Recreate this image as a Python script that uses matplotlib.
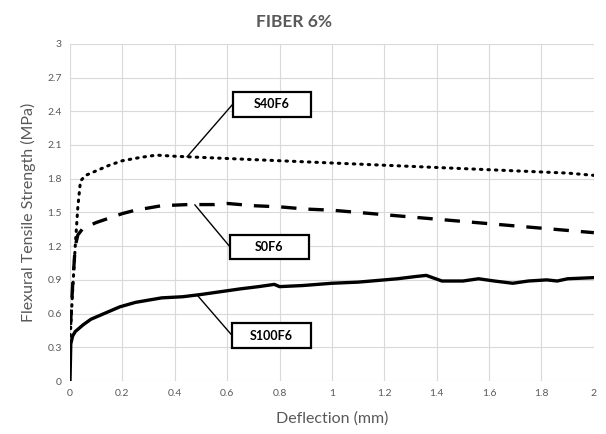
import matplotlib
matplotlib.use("Agg")
import matplotlib.pyplot as plt
from matplotlib.patches import Rectangle

plt.rcParams['font.family'] = ['Lato', 'DejaVu Sans']

# S40F6 (pointillé)
x_s40 = [0.001, 0.01, 0.02, 0.03, 0.04, 0.06, 0.1, 0.15, 0.2, 0.27, 0.33, 0.4, 0.5,
         0.6, 0.7, 0.8, 0.9, 1.0, 1.1, 1.2, 1.3, 1.4, 1.5, 1.6, 1.7, 1.8, 1.9, 2.0]
y_s40 = [0.4, 0.8, 1.2, 1.55, 1.78, 1.83, 1.87, 1.92, 1.96, 1.99, 2.01, 2.0, 1.99,
         1.98, 1.97, 1.96, 1.95, 1.94, 1.93, 1.92, 1.91, 1.9, 1.89, 1.88, 1.87, 1.86, 1.85, 1.83]

# S0F6 (tirets)
x_s0 = [0.002, 0.01, 0.02, 0.03, 0.05, 0.1, 0.15, 0.2, 0.25, 0.3, 0.35, 0.45,
        0.55, 0.6, 0.7, 0.8, 0.9, 1.0, 1.2, 1.4, 1.6, 1.8, 2.0]
y_s0 = [0.5, 0.85, 1.2, 1.3, 1.36, 1.41, 1.45, 1.49, 1.52, 1.54, 1.56, 1.57,
        1.57, 1.58, 1.56, 1.55, 1.53, 1.52, 1.48, 1.44, 1.40, 1.36, 1.32]

# S100F6 (trait plein)
x_s100 = [0, 0.003, 0.01, 0.02, 0.05, 0.08, 0.13, 0.19, 0.25, 0.3, 0.35, 0.43,
          0.5, 0.56, 0.65, 0.72, 0.78, 0.8, 0.89, 1.0, 1.1, 1.15, 1.25, 1.32, 1.36,
          1.42, 1.5, 1.56, 1.62, 1.69, 1.75, 1.82, 1.86, 1.9, 2.0]
y_s100 = [0, 0.33, 0.4, 0.44, 0.5, 0.55, 0.6, 0.66, 0.7, 0.72, 0.74, 0.75,
          0.77, 0.79, 0.82, 0.84, 0.86, 0.84, 0.85, 0.87, 0.88, 0.89, 0.91, 0.93, 0.94,
          0.89, 0.89, 0.91, 0.89, 0.87, 0.89, 0.90, 0.89, 0.91, 0.92]

xticks = [0, 0.2, 0.4, 0.6, 0.8, 1, 1.2, 1.4, 1.6, 1.8, 2]
xtick_labels = ['0', '0.2', '0.4', '0.6', '0.8', '1', '1.2', '1.4', '1.6', '1.8', '2']
yticks = [0, 0.3, 0.6, 0.9, 1.2, 1.5, 1.8, 2.1, 2.4, 2.7, 3]
ytick_labels = ['0', '0.3', '0.6', '0.9', '1.2', '1.5', '1.8', '2.1', '2.4', '2.7', '3']

# étiquettes : texte, point visé sur la courbe, centre de la boîte
labels = ['S40F6', 'S0F6', 'S100F6']
label_pts = [(0.447, 1.995), (0.477, 1.567), (0.485, 0.766)]
label_centers = [(0.771, 2.462), (0.761, 1.193), (0.769, 0.405)]

gris = '#595959'

fig = plt.figure(figsize=(6.06, 4.34), dpi=100)
ax = fig.add_axes([0.1155, 0.122, 0.8645, 0.777])

ax.plot(x_s40, y_s40, color='black', lw=2.2, linestyle=(0, (0.5, 1.95)),
        dash_capstyle='round', zorder=3)
ax.plot(x_s0, y_s0, color='black', lw=2.4, linestyle=(0, (4.6, 3.6)), zorder=3)
ax.plot(x_s100, y_s100, color='black', lw=2.4, zorder=3)

ax.set_xlim(0, 2)
ax.set_ylim(0, 3)
ax.set_xticks(xticks)
ax.set_xticklabels(xtick_labels)
ax.set_yticks(yticks)
ax.set_yticklabels(ytick_labels)
ax.tick_params(length=0, labelsize=7.5, colors=gris, pad=6)
ax.grid(True, color='#d9d9d9', lw=0.8)
ax.set_axisbelow(True)
for s in ax.spines.values():
    s.set_visible(False)

ax.set_xlabel('Deflection (mm)', fontsize=11.5, color=gris, labelpad=9)
ax.set_ylabel('Flexural Tensile Strength (MPa)', fontsize=11.5, color=gris, labelpad=8)
fig.text(294 / 606, 1 - 22 / 434, 'FIBER 6%', fontsize=12.5, fontweight='bold',
         color=gris, ha='center', va='center')

# boîtes avec traits de rappel
bw, bh = 0.30, 0.22
for txt, (px, py), (cx, cy) in zip(labels, label_pts, label_centers):
    ax.plot([px, cx - bw / 2], [py, cy], color='black', lw=1, zorder=4)
    ax.add_patch(Rectangle((cx - bw / 2, cy - bh / 2), bw, bh, fc='white',
                           ec='black', lw=1.6, zorder=5))
    ax.text(cx, cy, txt, fontsize=9, fontweight='bold', ha='center',
            va='center', zorder=6)

fig.savefig('out.png', dpi=100)
